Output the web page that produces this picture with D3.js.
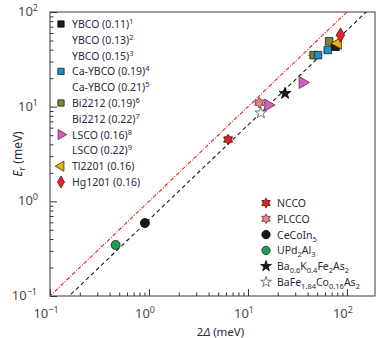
<!DOCTYPE html>
<html>
<head>
<meta charset="utf-8">
<script src="https://cdn.jsdelivr.net/npm/d3@7"></script>
<style>
  body { margin: 0; background: #fff; }
  svg { font-family: "Noto Sans", "Open Sans", sans-serif; }
  .tick-label { font-size: 13px; fill: #4a4a4a; }
  .legend text { font-size: 10.5px; fill: #2a2a3c; }
</style>
</head>
<body>
<div id="chart"></div>
<script>
// resonance energy vs superconducting gap, log-log
const samples = ["Bi2212", "Ca-YBCO", "Bi2212", "Ca-YBCO", "YBCO", "Tl2201", "Hg1201",
  "LSCO", "Ba-K", "PLCCO", "LSCO", "BaFeCo", "NCCO", "CeCoIn5", "UPd2Al3"];
const gapValues = [46, 51, 66, 64, 77, 81, 86, 35.6, 23.7, 13, 16, 13.5, 6.3, 0.91, 0.46];
const erValues = [35, 35, 49, 39.7, 43, 46.7, 57, 18, 13.8, 11, 10.4, 8.6, 4.5, 0.59, 0.346];
const gapErrors = [6, 4, 4, 3, 3, 0, 0, 0, 0, 2, 0, 0, 0, 0, 0];

// ratio lines
const upperRatio = 1.0;
const lowerRatio = 0.64;

const xTickValues = [0.1, 1, 10, 100];
const xTickExps = ["−1", "0", "1", "2"];
const yTickValues = [0.1, 1, 10, 100];
const yTickExps = ["−1", "0", "1", "2"];

// left legend: [name, doping, reference, has marker]
const cuprateLegend = [
  ["YBCO", "0.11", "1", "YBCO"],
  ["YBCO", "0.13", "2", null],
  ["YBCO", "0.15", "3", null],
  ["Ca-YBCO", "0.19", "4", "Ca-YBCO"],
  ["Ca-YBCO", "0.21", "5", null],
  ["Bi2212", "0.19", "6", "Bi2212"],
  ["Bi2212", "0.22", "7", null],
  ["LSCO", "0.16", "8", "LSCO"],
  ["LSCO", "0.22", "9", null],
  ["Tl2201", "0.16", "", "Tl2201"],
  ["Hg1201", "0.16", "", "Hg1201"]
];

// right legend: formula segments [text, "n" | "sub"]
const otherLegend = [
  ["NCCO", [["NCCO", "n"]]],
  ["PLCCO", [["PLCCO", "n"]]],
  ["CeCoIn5", [["CeCoIn", "n"], ["5", "sub"]]],
  ["UPd2Al3", [["UPd", "n"], ["2", "sub"], ["Al", "n"], ["3", "sub"]]],
  ["Ba-K", [["Ba", "n"], ["0.6", "sub"], ["K", "n"], ["0.4", "sub"], ["Fe", "n"], ["2", "sub"], ["As", "n"], ["2", "sub"]]],
  ["BaFeCo", [["BaFe", "n"], ["1.84", "sub"], ["Co", "n"], ["0.16", "sub"], ["As", "n"], ["2", "sub"]]]
];

// six-pointed star
const hexagram = {
  draw(ctx, size) {
    const r = Math.sqrt(size / 2.2);
    const ri = r * 0.6;
    for (let i = 0; i < 12; i++) {
      const a = -Math.PI / 2 + i * Math.PI / 6;
      const rr = i % 2 === 0 ? r : ri;
      if (i === 0) ctx.moveTo(rr * Math.cos(a), rr * Math.sin(a));
      else ctx.lineTo(rr * Math.cos(a), rr * Math.sin(a));
    }
    ctx.closePath();
  }
};

const styles = {
  "YBCO":    { type: d3.symbolSquare, size: 56, fill: "#1e1e1e", stroke: "#000", rot: 0 },
  "Ca-YBCO": { type: d3.symbolSquare, size: 56, fill: "#1d8fd2", stroke: "#1a1a1a", rot: 0 },
  "Bi2212":  { type: d3.symbolSquare, size: 56, fill: "#858433", stroke: "#1a1a1a", rot: 0 },
  "LSCO":    { type: d3.symbolTriangle, size: 62, fill: "#d95bbd", stroke: "#5a2a50", rot: 90 },
  "Tl2201":  { type: d3.symbolTriangle, size: 62, fill: "#f2b10f", stroke: "#3a2a00", rot: -90 },
  "Hg1201":  { type: d3.symbolDiamond, size: 60, fill: "#ec2233", stroke: "#5a0a10", rot: 0 },
  "NCCO":    { type: hexagram, size: 60, fill: "#e8202a", stroke: "#3a0a0a", rot: 0 },
  "PLCCO":   { type: hexagram, size: 60, fill: "#ef7f8c", stroke: "#5a2a30", rot: 0 },
  "CeCoIn5": { type: d3.symbolCircle, size: 64, fill: "#1a1a1a", stroke: "#000", rot: 0 },
  "UPd2Al3": { type: d3.symbolCircle, size: 64, fill: "#1ba34e", stroke: "#1a1a1a", rot: 0 },
  "Ba-K":    { type: d3.symbolStar, size: 42, fill: "#1a1a1a", stroke: "#000", rot: 0 },
  "BaFeCo":  { type: d3.symbolStar, size: 42, fill: "#ffffff", stroke: "#555", rot: 0 }
};

const margin = { top: 12, right: 6, bottom: 42, left: 50 };
const width = 381 - margin.left - margin.right;
const height = 338 - margin.top - margin.bottom;

const svg = d3.select("#chart").append("svg")
  .attr("width", 381)
  .attr("height", 338);

const g = svg.append("g")
  .attr("transform", `translate(${margin.left}, ${margin.top})`);

const xScale = d3.scaleLog().domain([0.1, 192]).range([0, width]);
const yScale = d3.scaleLog().domain([0.1, 100]).range([height, 0]);

// clip for the ratio lines
svg.append("defs").append("clipPath").attr("id", "plot-clip")
  .append("rect").attr("width", width).attr("height", height);

// minor ticks
const minorX = [];
const minorY = [];
for (let e = -1; e <= 2; e++) {
  for (let m = 2; m <= 9; m++) {
    const v = m * Math.pow(10, e);
    if (v <= 192) minorX.push(v);
    if (v <= 100) minorY.push(v);
  }
}

g.append("g")
  .attr("transform", `translate(0, ${height})`)
  .call(d3.axisBottom(xScale).tickValues(minorX).tickSize(-3.5).tickFormat(""))
  .call(ax => ax.select(".domain").remove());
g.append("g")
  .attr("transform", `translate(0, ${height})`)
  .call(d3.axisBottom(xScale).tickValues(xTickValues).tickSize(-7).tickFormat(""))
  .call(ax => ax.select(".domain").remove());
g.append("g")
  .call(d3.axisLeft(yScale).tickValues(minorY).tickSize(-3.5).tickFormat(""))
  .call(ax => ax.select(".domain").remove());
g.append("g")
  .call(d3.axisLeft(yScale).tickValues(yTickValues).tickSize(-7).tickFormat(""))
  .call(ax => ax.select(".domain").remove());
g.selectAll(".tick line").attr("stroke", "#333");

// frame
g.append("rect")
  .attr("width", width)
  .attr("height", height)
  .attr("fill", "none")
  .attr("stroke", "#3a3a3a")
  .attr("stroke-width", 1);

// tick labels with superscript exponents
xTickValues.forEach((v, i) => {
  const t = g.append("text").attr("class", "tick-label")
    .attr("x", xScale(v) - 4).attr("y", height + 22)
    .attr("text-anchor", "middle");
  t.append("tspan").text("10");
  t.append("tspan").attr("dy", -5).style("font-size", "9px").text(xTickExps[i]);
});
yTickValues.forEach((v, i) => {
  const t = g.append("text").attr("class", "tick-label")
    .attr("x", -7 - (yTickExps[i].length > 1 ? 6 : 5)).attr("y", yScale(v) + 4)
    .attr("text-anchor", "end");
  t.append("tspan").text("10");
  t.append("tspan").attr("dy", -5).style("font-size", "9px").text(yTickExps[i]);
});

// axis titles
const xTitle = g.append("text")
  .attr("x", width / 2 + 8).attr("y", height + 40)
  .attr("text-anchor", "middle")
  .style("font-size", "11.5px").attr("fill", "#2a2a3c");
xTitle.append("tspan").text("2");
xTitle.append("tspan").style("font-style", "italic").text("Δ");
xTitle.append("tspan").text(" (meV)");

const yTitle = g.append("text")
  .attr("transform", `translate(-28, ${height / 2}) rotate(-90)`)
  .attr("text-anchor", "middle")
  .style("font-size", "12px").attr("fill", "#2a2a3c");
yTitle.append("tspan").style("font-style", "italic").text("E");
yTitle.append("tspan").attr("dy", 3).style("font-size", "9px").text("r");
yTitle.append("tspan").attr("dy", -3).text(" (meV)");

// ratio lines
const lineGen = d3.line().x(d => xScale(d[0])).y(d => yScale(d[1]));
const gapRange = [0.05, 400];
const lines = g.append("g").attr("clip-path", "url(#plot-clip)");
lines.append("path")
  .datum(gapRange.map(v => [v, v * upperRatio]))
  .attr("d", lineGen)
  .attr("fill", "none")
  .attr("stroke", "#e8202a")
  .attr("stroke-width", 1.1)
  .attr("stroke-dasharray", "4,1.5,1,1.5");
lines.append("path")
  .datum(gapRange.map(v => [v, v * lowerRatio]))
  .attr("d", lineGen)
  .attr("fill", "none")
  .attr("stroke", "#1a1a1a")
  .attr("stroke-width", 1.1)
  .attr("stroke-dasharray", "4,3");

// horizontal error bars
g.append("g").selectAll("line")
  .data(samples.map((s, i) => i).filter(i => gapErrors[i] > 0))
  .join("line")
  .attr("x1", i => xScale(gapValues[i] - gapErrors[i]))
  .attr("x2", i => xScale(gapValues[i] + gapErrors[i]))
  .attr("y1", i => yScale(erValues[i]))
  .attr("y2", i => yScale(erValues[i]))
  .attr("stroke", "#888")
  .attr("stroke-width", 1);

const symbolPath = s => d3.symbol().type(styles[s].type).size(styles[s].size)();

// data points
g.append("g").selectAll("path")
  .data(samples.map((s, i) => i))
  .join("path")
  .attr("d", i => symbolPath(samples[i]))
  .attr("transform", i =>
    `translate(${xScale(gapValues[i])}, ${yScale(erValues[i])}) rotate(${styles[samples[i]].rot})`)
  .attr("fill", i => styles[samples[i]].fill)
  .attr("stroke", i => styles[samples[i]].stroke)
  .attr("stroke-width", 0.8);

// left legend
const leftLegend = g.append("g").attr("class", "legend");
cuprateLegend.forEach((d, i) => {
  const y = 12 + i * 15.8;
  if (d[3]) {
    const st = styles[d[3]];
    leftLegend.append("path")
      .attr("d", d3.symbol().type(st.type).size(st.size * 0.7)())
      .attr("transform", `translate(11, ${y}) rotate(${st.rot})`)
      .attr("fill", st.fill).attr("stroke", st.stroke).attr("stroke-width", 0.8);
  }
  const t = leftLegend.append("text").attr("x", 22).attr("y", y + 4);
  t.append("tspan").text(`${d[0]} (${d[1]})`);
  if (d[2]) t.append("tspan").attr("dy", -4).style("font-size", "7.5px").text(d[2]);
});

// right legend
const rightLegend = g.append("g").attr("class", "legend");
otherLegend.forEach((d, i) => {
  const y = 191 + i * 15.8;
  const st = styles[d[0]];
  rightLegend.append("path")
    .attr("d", d3.symbol().type(st.type).size(st.size * 0.85)())
    .attr("transform", `translate(216, ${y})`)
    .attr("fill", st.fill).attr("stroke", st.stroke).attr("stroke-width", 0.8);
  const t = rightLegend.append("text").attr("x", 227).attr("y", y + 4);
  let prev = "n";
  d[1].forEach(([txt, mode]) => {
    const span = t.append("tspan").text(txt);
    if (mode === "sub" && prev !== "sub") span.attr("dy", 3).style("font-size", "7.5px");
    else if (mode === "sub") span.style("font-size", "7.5px");
    else if (prev === "sub") span.attr("dy", -3);
    prev = mode;
  });
});
</script>
</body>
</html>
